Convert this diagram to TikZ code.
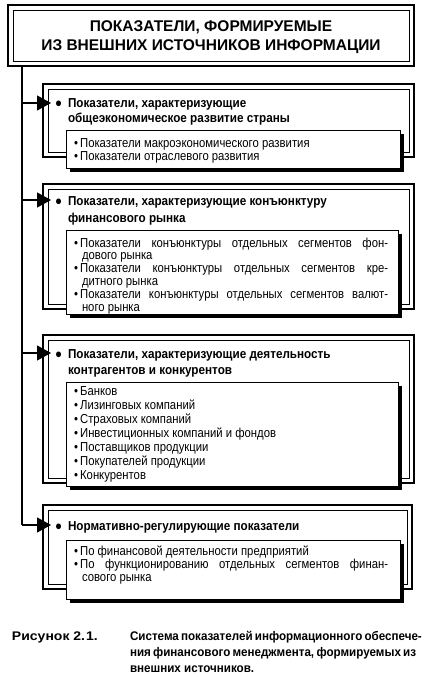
\documentclass[tikz,border=0pt]{standalone}
\usepackage{fontspec}
\setmainfont{Liberation Sans}
\newfontfamily\narrowfont[FakeStretch=0.87]{Liberation Sans}
\newfontfamily\headfont[FakeStretch=0.9]{Liberation Sans}
\newfontfamily\capfont[FakeStretch=0.93]{Liberation Sans}
\newfontfamily\capwidefont[FakeStretch=1.12]{Liberation Sans}
\usetikzlibrary{arrows.meta}
\newcommand\dframe[4]{%
  \draw[line width=2.2pt] (#1,#2) rectangle (#3,#4);
  \draw[line width=0.8pt] (#1+5,#2+5) rectangle (#3-5,#4-5);}
\newcommand\subbox[4]{%
  \fill (#1+4,#2+4) rectangle (#3+4,#4+4);
  \draw[line width=1pt,fill=white] (#1,#2) rectangle (#3,#4);}
\newcommand\jline[1]{\makebox[308pt][s]{#1}}
\begin{document}
\begin{tikzpicture}[x=1pt,y=-1pt,
  every node/.style={inner sep=0pt, outer sep=0pt},
  ttl/.style={font=\fontsize{15.5}{18}\selectfont\bfseries, anchor=base},
  hd/.style={font=\headfont\fontsize{13}{14}\selectfont\bfseries, anchor=base west},
  sb/.style={font=\narrowfont\fontsize{13}{14}\selectfont, anchor=base west},
  captxt/.style={font=\capfont\fontsize{12.5}{14}\selectfont\bfseries, anchor=base west},
  capwide/.style={font=\capwidefont\fontsize{12.5}{14}\selectfont\bfseries, anchor=base west},
  trunk/.style={line width=1.2pt},
  arr/.style={line width=1.2pt, -{Triangle[length=14pt,width=15pt]}}]
\useasboundingbox (0,0) rectangle (426,677);
% title
\dframe{8}{5}{414}{66}
\node[ttl] (t1) at (211,32) {ПОКАЗАТЕЛИ, ФОРМИРУЕМЫЕ};
\node[ttl] (t2) at (211,51) {ИЗ ВНЕШНИХ ИСТОЧНИКОВ ИНФОРМАЦИИ};
% boxes
\dframe{43}{84}{414}{157}
\subbox{66}{130}{400}{168}
\dframe{43}{184}{414}{309}
\subbox{66}{230}{398}{314}
\dframe{43}{335}{414}{483}
\subbox{66}{382}{398}{486}
\dframe{43}{505}{412}{589}
\subbox{66}{540}{400}{599}
% trunk and arrows
\coordinate (top) at (22,66);
\coordinate (bend) at (22,525);
\coordinate (j1) at (22,103);
\coordinate (j2) at (22,200);
\coordinate (j3) at (22,353);
\coordinate (e1) at (51,103);
\coordinate (e2) at (51,200);
\coordinate (e3) at (51,353);
\coordinate (e4) at (51,525);
\draw[trunk] (top) -- (bend);
\draw[arr] (j1) -- (e1);
\draw[arr] (j2) -- (e2);
\draw[arr] (j3) -- (e3);
\draw[arr] (bend) -- (e4);
% box 1
\node[hd] (h1a) at (55,107) {●};
\node[hd] (h1b) at (68,107) {Показатели, характеризующие};
\node[hd] (h1c) at (68,122) {общеэкономическое развитие страны};
\node[sb] (s1a) at (74,147) {•\,Показатели макроэкономического развития};
\node[sb] (s1b) at (74,160) {•\,Показатели отраслевого развития};
% box 2
\node[hd] (h2a) at (55,205) {●};
\node[hd] (h2b) at (68,205) {Показатели, характеризующие конъюнктуру};
\node[hd] (h2c) at (68,222) {финансового рынка};
\node[sb] (s2a) at (74,247) {•\,\jline{Показатели конъюнктуры отдельных сегментов фон-}};
\node[sb] (s2b) at (82,259.8) {дового рынка};
\node[sb] (s2c) at (74,272.6) {•\,\jline{Показатели конъюнктуры отдельных сегментов кре-}};
\node[sb] (s2d) at (82,285.4) {дитного рынка};
\node[sb] (s2e) at (74,298.2) {•\,\jline{Показатели конъюнктуры отдельных сегментов валют-}};
\node[sb] (s2f) at (82,311) {ного рынка};
% box 3
\node[hd] (h3a) at (55,358) {●};
\node[hd] (h3b) at (68,358) {Показатели, характеризующие деятельность};
\node[hd] (h3c) at (68,374) {контрагентов и конкурентов};
\foreach \t [count=\i] in {Банков,Лизинговых компаний,Страховых компаний,Инвестиционных компаний и фондов,Поставщиков продукции,Покупателей продукции,Конкурентов}
  \node[sb] (s3-\i) at (74,{395+14*(\i-1)}) {•\,\t};
% box 4
\node[hd] (h4a) at (55,530) {●};
\node[hd] (h4b) at (68,530) {Нормативно-регулирующие показатели};
\node[sb] (s4a) at (74,555) {•\,По финансовой деятельности предприятий};
\node[sb] (s4b) at (74,568) {•\,\jline{По функционированию отдельных сегментов финан-}};
\node[sb] (s4c) at (82,581) {сового рынка};
% caption
\node[capwide] (c0) at (12,640) {Рисунок 2.\hspace{1pt}1.};
\node[captxt] (c1) at (130,640) {\makebox[283pt][s]{Система показателей информационного обеспече-}};
\node[captxt] (c2) at (130,656) {\makebox[283pt][s]{ния финансового менеджмента, формируемых из}};
\node[captxt] (c3) at (130,672) {внешних источников.};
\end{tikzpicture}
\end{document}
